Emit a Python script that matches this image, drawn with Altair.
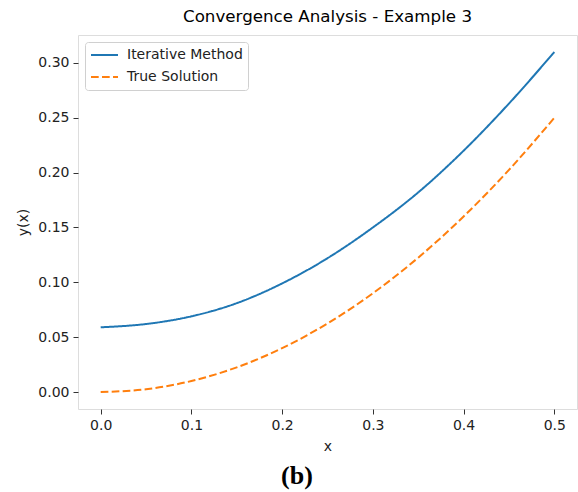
import altair as alt
import pandas as pd

# Sample points along x
x_vals = [0.0, 0.05, 0.10, 0.15, 0.20, 0.25, 0.30, 0.35, 0.40, 0.45, 0.50]

# Approximate solution from the iterative scheme
iterative_vals = [0.059, 0.062, 0.069, 0.081, 0.099, 0.122, 0.150, 0.182, 0.220, 0.263, 0.310]

# Exact solution
true_vals = [0.0, 0.0025, 0.010, 0.0225, 0.040, 0.0625, 0.090, 0.1225, 0.160, 0.2025, 0.250]

series_names = ["Iterative Method", "True Solution"]
series_colors = ["#1f77b4", "#ff7f0e"]
series_dashes = [[1, 0], [7.7, 3.3]]

x_ticks = [0.0, 0.1, 0.2, 0.3, 0.4, 0.5]
y_ticks = [0.0, 0.05, 0.10, 0.15, 0.20, 0.25, 0.30]

panel_label = ["(b)"]

rows = []
for x, v in zip(x_vals, iterative_vals):
    rows.append({"x": x, "y": v, "series": series_names[0]})
for x, v in zip(x_vals, true_vals):
    rows.append({"x": x, "y": v, "series": series_names[1]})
df = pd.DataFrame(rows)

FONT = "DejaVu Sans"
CANVAS_W, CANVAS_H = 578, 492
W, H = 499, 374
LEFT, TOP = 78, 35

lines = alt.Chart(df).mark_line(strokeWidth=2, interpolate="monotone").encode(
    x=alt.X(
        "x:Q",
        scale=alt.Scale(domain=[-0.025, 0.525], nice=False, zero=False),
        axis=alt.Axis(
            values=x_ticks, format=".1f", title="x",
            titleY=37, titleBaseline="middle",
        ),
    ),
    y=alt.Y(
        "y:Q",
        scale=alt.Scale(domain=[-0.0155, 0.3255], nice=False, zero=False),
        axis=alt.Axis(
            values=y_ticks, format=".2f", title="y(x)",
            titleX=-55, titleY=H / 2, titleBaseline="middle", titleAngle=-90,
        ),
    ),
    color=alt.Color(
        "series:N",
        scale=alt.Scale(domain=series_names, range=series_colors),
        legend=alt.Legend(title=None, orient="none", legendX=7, legendY=7),
    ),
    strokeDash=alt.StrokeDash(
        "series:N",
        scale=alt.Scale(domain=series_names, range=series_dashes),
        legend=alt.Legend(title=None, orient="none", legendX=7, legendY=7),
    ),
)

label = alt.Chart(pd.DataFrame({"label": panel_label})).mark_text(
    font="Liberation Serif", fontWeight="bold", fontSize=26,
    baseline="middle", align="center", color="black",
).encode(
    text="label:N",
    x=alt.value(297 - LEFT),
    y=alt.value(476 - TOP),
)

chart = alt.layer(lines, label).properties(
    width=W,
    height=H,
    autosize=alt.AutoSizeParams(type="none"),
    padding={
        "left": LEFT, "top": TOP,
        "right": CANVAS_W - LEFT - W, "bottom": CANVAS_H - TOP - H,
    },
    title=alt.TitleParams(
        "Convergence Analysis - Example 3",
        font=FONT, fontSize=16.7, fontWeight="normal",
        anchor="middle", offset=9, color="black",
    ),
).configure_view(
    stroke="#333", strokeWidth=1, fill="white",
).configure(
    background="white",
).configure_axis(
    domain=False, grid=False,
    ticks=True, tickSize=5, tickColor="#333", tickWidth=1,
    labelFont=FONT, labelFontSize=14, labelColor="#222", labelPadding=4,
    titleFont=FONT, titleFontSize=14, titleFontWeight="normal", titleColor="#222",
).configure_legend(
    labelFont=FONT, labelFontSize=14, labelColor="#222",
    symbolType="stroke", symbolSize=729, symbolStrokeWidth=2,
    clipHeight=16, labelOffset=8, rowPadding=6, padding=5,
    fillColor="white", strokeColor="#d0d0d0", cornerRadius=3,
    labelLimit=0,
)

chart.save("out.html", embed_options={"renderer": "svg", "actions": False})
